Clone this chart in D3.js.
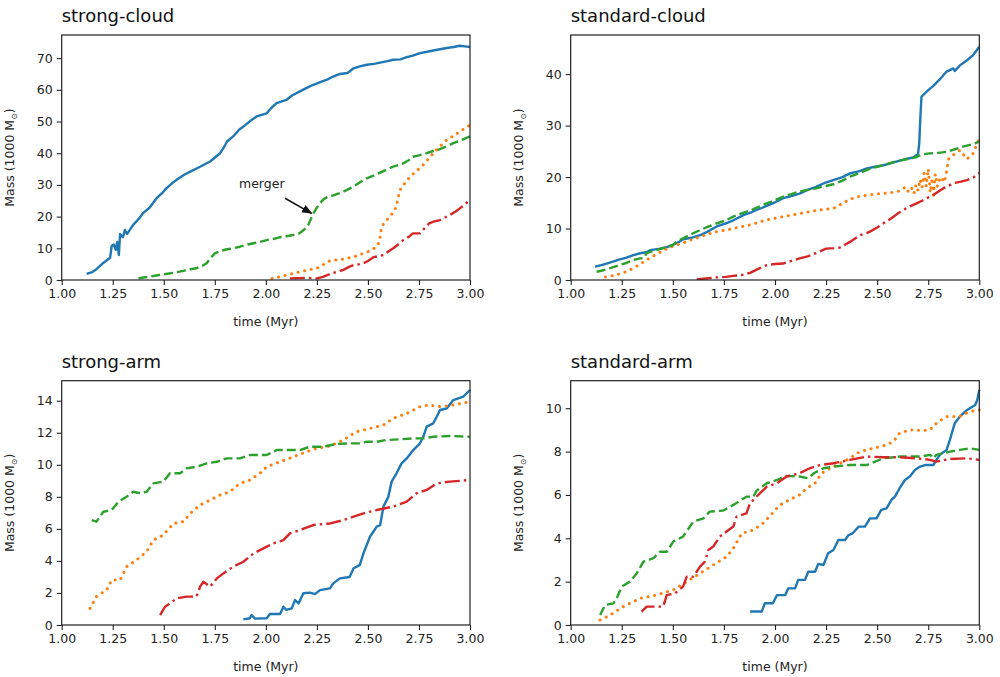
<!DOCTYPE html>
<html><head><meta charset="utf-8">
<script src="https://cdn.jsdelivr.net/npm/d3@7"></script>
<style>
body{margin:0;background:#fff;}
svg{display:block;font-family:"DejaVu Sans",sans-serif;}
</style></head><body>
<svg id="chart" width="1000" height="677"></svg>
<script>
// ---------- data ----------
const panelTitles = ["strong-cloud","standard-cloud","strong-arm","standard-arm"];
const xTicks = [1.00,1.25,1.50,1.75,2.00,2.25,2.50,2.75,3.00];
const yMaxes = [77.3, 47.6, 15.25, 11.27];
const yTicks1 = [0,10,20,30,40,50,60,70];
const yTicks2 = [0,10,20,30,40];
const yTicks3 = [0,2,4,6,8,10,12,14];
const yTicks4 = [0,2,4,6,8,10];

const strongCloudBlue = [[1.122,1.9],[1.15,2.5],[1.17,3.4],[1.20,5.2],[1.237,7.0],[1.245,10.8],[1.255,11.2],[1.265,9.5],[1.272,12.0],[1.28,7.9],[1.286,14.5],[1.30,13.5],[1.31,15.8],[1.32,14.5],[1.35,17.4],[1.38,19.5],[1.40,21.2],[1.43,22.8],[1.465,25.8],[1.49,27.3],[1.514,29],[1.54,30.5],[1.563,31.6],[1.60,33.2],[1.63,34.2],[1.68,35.8],[1.727,37.4],[1.776,40],[1.80,42.5],[1.81,43.7],[1.84,45.3],[1.87,47.5],[1.89,48.4],[1.93,50.5],[1.955,51.6],[2.004,52.6],[2.03,54.5],[2.053,55.8],[2.10,56.8],[2.13,58.3],[2.167,59.5],[2.20,60.6],[2.233,61.6],[2.27,62.5],[2.30,63.2],[2.33,64.2],[2.363,65],[2.40,65.3],[2.43,66.8],[2.46,67.4],[2.494,67.9],[2.53,68.2],[2.56,68.6],[2.59,69.0],[2.624,69.5],[2.66,69.6],[2.69,70.3],[2.72,70.8],[2.755,71.6],[2.79,72.0],[2.82,72.4],[2.853,72.8],[2.886,73.2],[2.92,73.5],[2.95,73.9],[2.975,73.7],[3.0,73.5]];
const strongCloudOrange = [[2.03,0.5],[2.06,0.9],[2.086,1.3],[2.13,2.0],[2.167,2.6],[2.21,3.2],[2.25,3.7],[2.28,4.8],[2.314,6.1],[2.36,6.4],[2.396,6.8],[2.44,7.5],[2.478,8.4],[2.51,9.2],[2.543,10.5],[2.555,12.0],[2.56,13.7],[2.567,16.8],[2.58,18.0],[2.6,19.5],[2.62,21.0],[2.64,23.2],[2.648,26.0],[2.657,28.4],[2.68,30.5],[2.706,32.6],[2.74,34.5],[2.771,36.3],[2.80,38.5],[2.82,40],[2.85,42.0],[2.886,44.2],[2.92,45.5],[2.95,46.8],[2.975,47.9],[3.0,48.9]];
const strongCloudGreen = [[1.376,0.5],[1.40,0.8],[1.43,1.05],[1.47,1.5],[1.51,1.9],[1.55,2.3],[1.596,2.9],[1.63,3.4],[1.66,3.7],[1.69,4.5],[1.71,5.3],[1.73,7.0],[1.75,8.4],[1.78,9.2],[1.81,9.7],[1.84,10.0],[1.873,10.5],[1.91,11.2],[1.94,11.6],[1.97,12.0],[2.004,12.6],[2.04,13.0],[2.07,13.5],[2.10,13.8],[2.135,14.2],[2.16,14.6],[2.176,15.3],[2.195,16.3],[2.208,17.4],[2.22,19.2],[2.233,21],[2.25,22.8],[2.265,24.2],[2.285,25.6],[2.306,26.3],[2.33,26.7],[2.363,27.4],[2.40,28.5],[2.43,29.5],[2.46,30.8],[2.494,32.1],[2.53,33.0],[2.56,33.9],[2.59,34.8],[2.624,35.8],[2.65,36.3],[2.673,36.8],[2.70,37.8],[2.72,38.9],[2.75,39.3],[2.788,40],[2.82,40.7],[2.853,41.3],[2.89,42.3],[2.918,43.2],[2.96,44.2],[3.0,45.3]];
const strongCloudRed = [[2.118,0.5],[2.16,0.6],[2.2,0.7],[2.25,0.5],[2.28,1.0],[2.314,1.9],[2.35,2.6],[2.38,3.2],[2.41,4.2],[2.43,4.7],[2.46,5.0],[2.478,5.3],[2.50,6.0],[2.527,7.2],[2.55,7.5],[2.576,7.9],[2.60,9.0],[2.624,10],[2.65,11.3],[2.673,12.6],[2.70,13.6],[2.72,14.7],[2.755,14.7],[2.78,16.5],[2.8,17.9],[2.825,18.5],[2.853,18.9],[2.88,19.8],[2.9,20.5],[2.93,21.6],[2.95,22.6],[2.975,23.8],[3.0,25.3]];

const standardCloudBlue = [[1.119,2.6],[1.15,2.9],[1.176,3.2],[1.21,3.6],[1.24,4.0],[1.27,4.3],[1.307,4.85],[1.34,5.2],[1.37,5.4],[1.39,5.8],[1.437,6.1],[1.47,6.4],[1.50,6.8],[1.53,7.4],[1.55,7.9],[1.59,8.2],[1.633,8.7],[1.67,9.4],[1.715,10.4],[1.76,11.0],[1.796,11.6],[1.845,12.6],[1.88,13.1],[1.91,13.6],[1.96,14.4],[2.0,15.1],[2.04,15.9],[2.08,16.3],[2.12,16.8],[2.16,17.5],[2.20,18.1],[2.24,18.8],[2.285,19.4],[2.33,20.0],[2.367,20.7],[2.41,21.1],[2.45,21.7],[2.49,22.0],[2.53,22.3],[2.57,22.7],[2.61,23.2],[2.64,23.5],[2.677,23.8],[2.70,24.5],[2.706,26.5],[2.712,32],[2.717,35.6],[2.742,36.6],[2.775,37.7],[2.807,39],[2.84,40.5],[2.873,41.1],[2.88,40.6],[2.905,41.7],[2.94,42.7],[2.97,43.7],[3.0,45.3]];
const standardCloudOrange = [[1.17,0.6],[1.20,0.8],[1.225,1.0],[1.27,1.6],[1.307,2.3],[1.34,3.1],[1.372,3.9],[1.42,5.0],[1.47,6.1],[1.51,6.7],[1.55,7.2],[1.59,7.8],[1.633,8.4],[1.67,8.9],[1.715,9.4],[1.76,9.7],[1.796,10.0],[1.84,10.4],[1.878,10.7],[1.92,11.2],[1.96,11.7],[2.0,12.0],[2.04,12.3],[2.08,12.6],[2.12,12.9],[2.16,13.2],[2.20,13.5],[2.24,13.7],[2.285,13.9],[2.31,14.4],[2.33,14.9],[2.367,15.7],[2.41,16.2],[2.45,16.5],[2.49,16.7],[2.53,16.8],[2.57,17.0],[2.61,17.3],[2.64,18.1],[2.655,17.0],[2.67,17.8],[2.68,16.8],[2.69,18.5],[2.70,17.4],[2.71,19.5],[2.72,18.0],[2.73,20.8],[2.74,18.2],[2.75,21.6],[2.76,17.0],[2.77,19.8],[2.775,16.5],[2.785,20.6],[2.795,18.2],[2.81,20.0],[2.83,19.0],[2.85,23.5],[2.88,24.5],[2.905,25.2],[2.94,23.5],[2.97,24.6],[2.99,26.5],[3.0,27.6]];
const standardCloudGreen = [[1.127,1.6],[1.15,1.8],[1.176,2.1],[1.21,2.5],[1.24,2.9],[1.27,3.3],[1.307,3.9],[1.34,4.2],[1.355,4.2],[1.372,5.2],[1.40,5.6],[1.437,6.0],[1.47,6.4],[1.50,6.8],[1.52,7.5],[1.55,8.1],[1.59,8.9],[1.633,9.7],[1.67,10.3],[1.715,11.0],[1.76,11.6],[1.796,12.3],[1.84,13.0],[1.878,13.5],[1.92,14.2],[1.96,14.9],[2.0,15.5],[2.04,16.2],[2.08,16.7],[2.12,17.2],[2.16,17.5],[2.20,17.8],[2.24,18.2],[2.285,18.6],[2.33,19.3],[2.367,20.1],[2.41,20.7],[2.45,21.4],[2.49,21.9],[2.53,22.3],[2.57,22.8],[2.61,23.2],[2.65,23.5],[2.693,23.9],[2.72,24.4],[2.758,24.6],[2.80,24.7],[2.84,24.9],[2.88,25.4],[2.92,25.9],[2.96,26.3],[3.0,26.9]];
const standardCloudRed = [[1.617,0.1],[1.66,0.3],[1.715,0.5],[1.76,0.6],[1.796,0.8],[1.84,1.0],[1.878,1.4],[1.92,2.2],[1.96,2.9],[2.0,3.1],[2.04,3.2],[2.08,3.7],[2.12,4.2],[2.16,4.6],[2.20,5.2],[2.25,6.1],[2.29,6.2],[2.318,6.3],[2.34,6.8],[2.367,7.4],[2.39,8.0],[2.416,8.7],[2.44,9.0],[2.465,9.4],[2.50,10.2],[2.53,11.0],[2.555,11.6],[2.58,12.3],[2.60,12.9],[2.628,13.6],[2.66,14.3],[2.693,14.9],[2.72,15.4],[2.742,15.9],[2.775,16.5],[2.80,17.2],[2.823,17.8],[2.85,18.3],[2.873,18.8],[2.91,19.1],[2.94,19.4],[2.97,19.9],[3.0,20.8]];

const strongArmBlue = [[1.89,0.35],[1.922,0.42],[1.93,0.62],[1.947,0.4],[2.004,0.42],[2.02,0.69],[2.07,0.69],[2.086,1.14],[2.10,0.94],[2.127,1.04],[2.143,1.56],[2.16,1.35],[2.184,1.98],[2.216,2.02],[2.24,1.93],[2.265,2.18],[2.314,2.29],[2.33,2.6],[2.363,2.91],[2.41,3.0],[2.43,3.54],[2.46,3.74],[2.478,4.47],[2.51,5.51],[2.543,6.14],[2.56,6.24],[2.576,7.39],[2.6,8.0],[2.616,8.95],[2.64,9.47],[2.665,10.09],[2.69,10.4],[2.722,10.92],[2.755,11.34],[2.771,11.75],[2.788,12.38],[2.82,12.59],[2.837,13.0],[2.853,13.42],[2.886,13.52],[2.918,14.04],[2.967,14.25],[3.0,14.67]];
const strongArmOrange = [[1.139,1.04],[1.17,1.77],[1.22,2.18],[1.245,2.81],[1.286,2.81],[1.318,3.64],[1.367,4.06],[1.416,4.58],[1.449,5.3],[1.498,5.62],[1.547,6.34],[1.596,6.45],[1.63,6.97],[1.678,7.49],[1.727,7.8],[1.776,8.11],[1.824,8.32],[1.873,8.84],[1.922,9.05],[1.971,9.47],[2.004,9.88],[2.07,10.19],[2.135,10.5],[2.2,10.82],[2.25,11.03],[2.314,11.17],[2.38,11.55],[2.445,12.07],[2.51,12.27],[2.576,12.48],[2.624,12.9],[2.69,13.21],[2.755,13.63],[2.80,13.73],[2.853,13.63],[2.918,13.73],[3.0,13.94]];
const strongArmGreen = [[1.147,6.55],[1.17,6.45],[1.204,7.07],[1.245,7.18],[1.278,7.7],[1.318,8.01],[1.351,8.32],[1.384,8.22],[1.416,8.32],[1.449,8.84],[1.498,8.95],[1.53,9.47],[1.58,9.47],[1.612,9.78],[1.661,9.88],[1.71,10.09],[1.76,10.19],[1.808,10.4],[1.873,10.4],[1.922,10.61],[2.004,10.61],[2.053,10.92],[2.118,10.92],[2.167,10.92],[2.216,11.13],[2.28,11.13],[2.347,11.3],[2.41,11.34],[2.46,11.34],[2.494,11.44],[2.543,11.44],[2.592,11.55],[2.657,11.59],[2.722,11.65],[2.771,11.65],[2.82,11.75],[2.9,11.8],[3.0,11.75]];
const strongArmRed = [[1.482,0.62],[1.506,1.14],[1.53,1.35],[1.563,1.66],[1.612,1.77],[1.66,1.77],[1.678,2.39],[1.694,2.7],[1.727,2.39],[1.76,2.91],[1.792,3.22],[1.84,3.64],[1.89,3.95],[1.94,4.47],[1.988,4.78],[2.037,5.1],[2.086,5.3],[2.118,5.72],[2.167,5.93],[2.233,6.24],[2.314,6.34],[2.38,6.55],[2.43,6.76],[2.478,6.97],[2.543,7.18],[2.624,7.39],[2.69,7.7],[2.738,8.22],[2.788,8.43],[2.837,8.84],[2.9,8.95],[3.0,9.05]];

const standardArmBlue = [[1.878,0.62],[1.935,0.62],[1.95,1.0],[1.99,1.0],[2.01,1.38],[2.05,1.38],[2.065,1.69],[2.098,1.69],[2.114,2.08],[2.147,2.08],[2.163,2.46],[2.196,2.46],[2.212,2.82],[2.237,2.77],[2.26,3.31],[2.286,3.46],[2.31,3.92],[2.343,3.92],[2.36,4.15],[2.38,4.23],[2.41,4.54],[2.44,4.54],[2.465,4.92],[2.497,4.92],[2.52,5.31],[2.546,5.38],[2.57,5.77],[2.587,5.92],[2.61,6.31],[2.636,6.69],[2.66,6.85],[2.685,7.15],[2.71,7.31],[2.734,7.38],[2.775,7.38],[2.79,7.62],[2.807,7.85],[2.84,8.08],[2.856,8.54],[2.88,9.31],[2.905,9.62],[2.94,9.92],[2.98,10.15],[2.99,10.38],[3.0,10.85]];
const standardArmOrange = [[1.144,0.23],[1.193,0.46],[1.258,0.85],[1.34,1.23],[1.42,1.38],[1.502,1.62],[1.568,2.0],[1.633,2.38],[1.698,2.77],[1.763,3.15],[1.796,3.54],[1.837,4.23],[1.894,4.38],[1.94,4.69],[1.98,5.08],[2.024,5.54],[2.07,5.77],[2.12,6.0],[2.155,6.31],[2.196,6.54],[2.228,7.0],[2.27,7.23],[2.318,7.46],[2.367,7.69],[2.416,8.0],[2.48,8.15],[2.53,8.26],[2.58,8.46],[2.61,8.85],[2.66,9.0],[2.726,8.97],[2.758,9.0],[2.79,9.31],[2.84,9.62],[2.905,9.62],[2.954,9.85],[3.0,9.92]];
const standardArmGreen = [[1.144,0.46],[1.168,0.92],[1.209,1.0],[1.225,1.23],[1.25,1.77],[1.29,2.0],[1.323,2.38],[1.356,2.92],[1.405,3.08],[1.437,3.38],[1.47,3.38],[1.502,3.85],[1.55,4.08],[1.6,4.77],[1.65,4.92],[1.68,5.23],[1.747,5.28],[1.796,5.54],[1.86,5.92],[1.894,5.92],[1.91,6.2],[1.96,6.54],[2.01,6.69],[2.057,6.88],[2.12,6.85],[2.163,6.77],[2.19,7.0],[2.237,7.23],[2.286,7.31],[2.367,7.38],[2.45,7.38],[2.53,7.69],[2.61,7.77],[2.71,7.77],[2.76,7.85],[2.775,7.69],[2.79,7.85],[2.856,8.0],[2.905,8.08],[2.954,8.15],[3.0,8.08]];
const standardArmRed = [[1.347,0.62],[1.372,0.85],[1.453,0.85],[1.47,1.38],[1.51,1.46],[1.55,1.77],[1.568,2.23],[1.6,2.23],[1.633,2.69],[1.657,2.92],[1.674,3.46],[1.698,3.62],[1.73,4.08],[1.763,4.31],[1.796,4.54],[1.812,5.0],[1.86,5.15],[1.878,5.62],[1.894,5.77],[1.927,6.08],[1.96,6.38],[2.01,6.54],[2.057,6.85],[2.12,7.0],[2.17,7.23],[2.22,7.38],[2.286,7.46],[2.367,7.62],[2.45,7.77],[2.53,7.74],[2.61,7.74],[2.693,7.69],[2.758,7.62],[2.79,7.54],[2.856,7.66],[2.94,7.69],[3.0,7.62]];

// merger annotation (data coords in strong-cloud)
const mergerText = [1.98, 30.2];
const mergerArrowFrom = [2.094, 25.8];
const mergerArrowTo = [2.224, 21.05];

// ---------- styling ----------
const seriesStyle = {
  blue:   {color:"#1f77b4", dash:null, width:2.4, cap:"butt"},
  orange: {color:"#ff7f0e", dash:"0.1,6.6", width:3, cap:"round"},
  green:  {color:"#2ca02c", dash:"9,4", width:2.4, cap:"butt"},
  red:    {color:"#d62728", dash:"15,4,2.5,4", width:2.4, cap:"butt"}
};
const panels = [
  {title:panelTitles[0], yMax:yMaxes[0], yTicks:yTicks1, box:[61.7,470,35,280],
   series:{blue:strongCloudBlue, orange:strongCloudOrange, green:strongCloudGreen, red:strongCloudRed}},
  {title:panelTitles[1], yMax:yMaxes[1], yTicks:yTicks2, box:[570.7,979.3,35,280],
   series:{blue:standardCloudBlue, orange:standardCloudOrange, green:standardCloudGreen, red:standardCloudRed}},
  {title:panelTitles[2], yMax:yMaxes[2], yTicks:yTicks3, box:[61.7,470,380.7,625],
   series:{blue:strongArmBlue, orange:strongArmOrange, green:strongArmGreen, red:strongArmRed}},
  {title:panelTitles[3], yMax:yMaxes[3], yTicks:yTicks4, box:[570.7,979.3,380.7,625],
   series:{blue:standardArmBlue, orange:standardArmOrange, green:standardArmGreen, red:standardArmRed}}
];

const svg = d3.select("#chart");
svg.append("defs").append("marker")
  .attr("id","arrow").attr("viewBox","0 0 10 10").attr("refX",9).attr("refY",5)
  .attr("markerWidth",7).attr("markerHeight",7).attr("orient","auto")
  .append("path").attr("d","M0,1 L10,5 L0,9 z").attr("fill","#111");

panels.forEach((p,i)=>{
  const [L,R,T,B] = p.box;
  const x = d3.scaleLinear().domain([1,3]).range([L,R]);
  const y = d3.scaleLinear().domain([0,p.yMax]).range([B,T]);
  const g = svg.append("g");

  const clipId = "clip"+i;
  svg.select("defs").append("clipPath").attr("id",clipId)
    .append("rect").attr("x",L).attr("y",T-2).attr("width",R-L+2).attr("height",B-T+2);

  const line = d3.line().x(d=>x(d[0])).y(d=>y(d[1]));
  const lg = g.append("g").attr("clip-path",`url(#${clipId})`);
  ["blue","orange","green","red"].forEach(k=>{
    const st = seriesStyle[k];
    const path = lg.append("path").datum(p.series[k]).attr("d",line)
      .attr("fill","none").attr("stroke",st.color).attr("stroke-width",st.width)
      .attr("stroke-linejoin","round").attr("stroke-linecap",st.cap);
    if(st.dash) path.attr("stroke-dasharray",st.dash);
  });

  // axes
  const xAxis = d3.axisBottom(x).tickValues(xTicks).tickFormat(d3.format(".2f")).tickSize(5).tickPadding(4);
  const yAxis = d3.axisLeft(y).tickValues(p.yTicks).tickFormat(d3.format("d")).tickSize(5).tickPadding(4);
  const gx = g.append("g").attr("transform",`translate(0,${B})`).call(xAxis);
  const gy = g.append("g").attr("transform",`translate(${L},0)`).call(yAxis);
  [gx,gy].forEach(a=>{
    a.select(".domain").remove();
    a.selectAll(".tick line").attr("stroke","#222").attr("stroke-width",1.1);
    a.selectAll(".tick text").attr("fill","#222").style("font-size","12.5px").style("font-family","DejaVu Sans");
  });
  // frame
  g.append("rect").attr("x",L).attr("y",T).attr("width",R-L).attr("height",B-T)
    .attr("fill","none").attr("stroke","#222").attr("stroke-width",1.2);

  // title
  g.append("text").attr("x",L).attr("y",T-13).text(p.title)
    .attr("fill","#111").style("font-size","18px");
  // x label
  g.append("text").attr("x",(L+R)/2).attr("y",B+46).attr("text-anchor","middle")
    .attr("fill","#222").style("font-size","12.5px").text("time (Myr)");
  // y label
  const yl = g.append("text").attr("transform",`translate(${L-48},${(T+B)/2}) rotate(-90)`)
    .attr("text-anchor","middle").attr("fill","#222").style("font-size","12.5px");
  yl.append("tspan").text("Mass (1000 M");
  yl.append("tspan").text("\u2299").style("font-size","8px").attr("dy",3);
  yl.append("tspan").text(")").attr("dy",-3);

  if(i===0){
    g.append("text").attr("x",x(mergerText[0])).attr("y",y(mergerText[1])+4)
      .attr("text-anchor","middle").attr("fill","#222").style("font-size","12.5px").text("merger");
    g.append("line").attr("x1",x(mergerArrowFrom[0])).attr("y1",y(mergerArrowFrom[1]))
      .attr("x2",x(mergerArrowTo[0])).attr("y2",y(mergerArrowTo[1]))
      .attr("stroke","#111").attr("stroke-width",1.5).attr("marker-end","url(#arrow)");
  }
});
</script>
</body></html>
